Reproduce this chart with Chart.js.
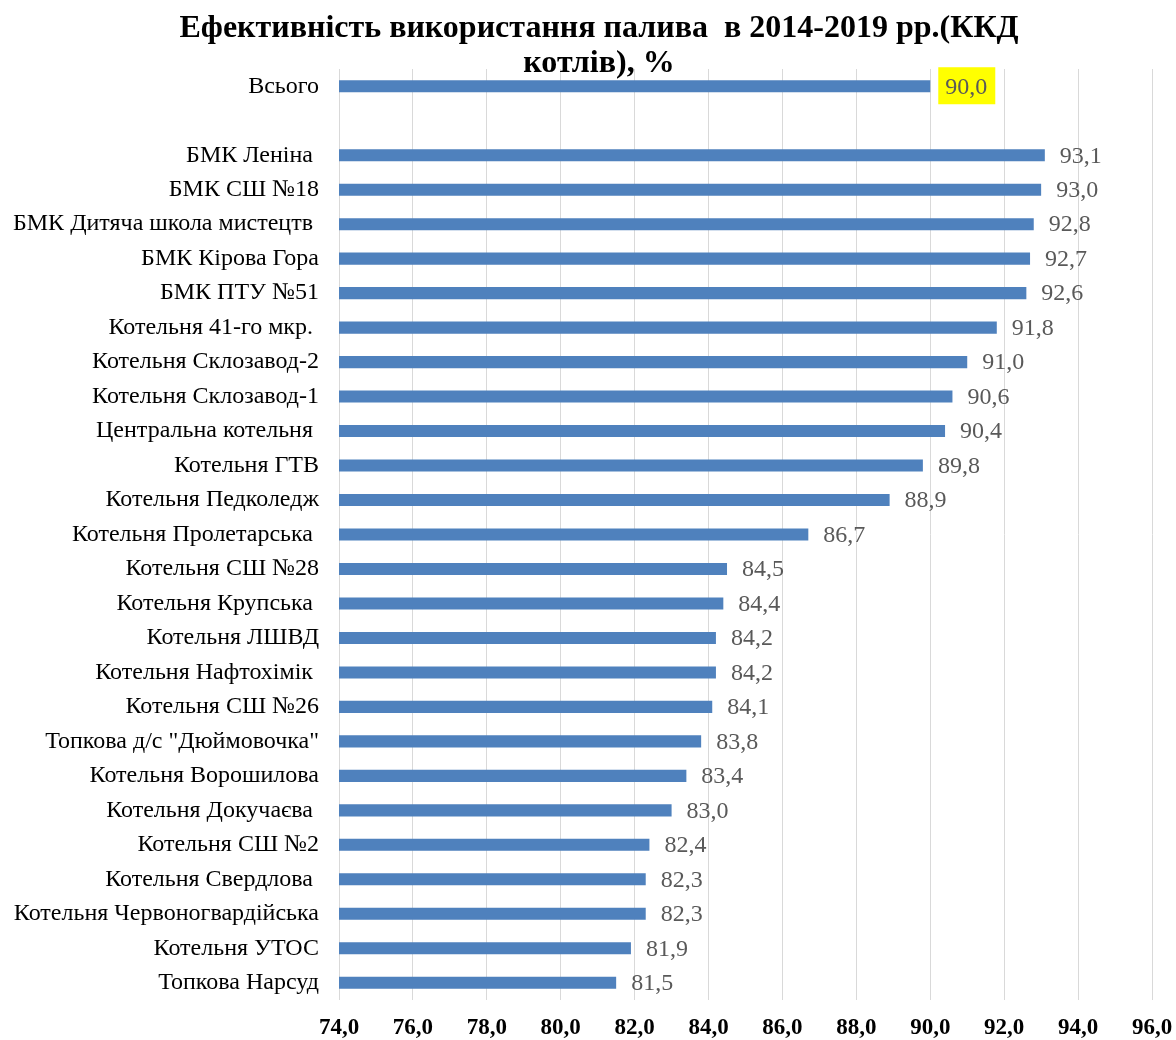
<!DOCTYPE html>
<html>
<head>
<meta charset="utf-8">
<script src="https://cdn.jsdelivr.net/npm/chart.js@4/dist/chart.umd.min.js"></script>
<style>
html,body{margin:0;padding:0;background:#fff;}
#wrap{width:1176px;height:1040px;position:relative;}
</style>
</head>
<body>
<div id="wrap"><canvas id="c"></canvas></div>
<script>
const titleLines = ['Ефективність використання палива  в 2014-2019 рр.(ККД', 'котлів), %'];
const categories = [
  'Всього', '',
  'БМК Леніна ', 'БМК СШ №18', 'БМК Дитяча школа мистецтв ', 'БМК Кірова Гора', 'БМК ПТУ №51',
  'Котельня 41-го мкр. ', 'Котельня Склозавод-2', 'Котельня Склозавод-1', 'Центральна котельня ',
  'Котельня ГТВ', 'Котельня Педколедж', 'Котельня Пролетарська ', 'Котельня СШ №28',
  'Котельня Крупська ', 'Котельня ЛШВД', 'Котельня Нафтохімік ', 'Котельня СШ №26',
  'Топкова д/с "Дюймовочка"', 'Котельня Ворошилова', 'Котельня Докучаєва ', 'Котельня СШ №2',
  'Котельня Свердлова ', 'Котельня Червоногвардійська', 'Котельня УТОС', 'Топкова Нарсуд'
];
const values = [
  90.0, null,
  93.1, 93.0, 92.8, 92.7, 92.6,
  91.8, 91.0, 90.6, 90.4,
  89.8, 88.9, 86.7, 84.5,
  84.4, 84.2, 84.2, 84.1,
  83.8, 83.4, 83.0, 82.4,
  82.3, 82.3, 81.9, 81.5
];
const highlightIndex = 0;
const xMin = 74, xMax = 96, xStep = 2;

const fmt = v => v.toFixed(1).replace('.', ',');

const titlePlugin = {
  id: 'customTitle',
  afterDraw(chart) {
    const ctx = chart.ctx;
    ctx.save();
    ctx.font = 'bold 32px "Liberation Serif", "Times New Roman", serif';
    ctx.fillStyle = '#000';
    ctx.textAlign = 'center';
    ctx.textBaseline = 'middle';
    ctx.fillText(titleLines[0], 599, 29);
    ctx.fillText(titleLines[1], 599, 64);
    ctx.restore();
  }
};

const labelPlugin = {
  id: 'valueLabels',
  afterDatasetsDraw(chart) {
    const ctx = chart.ctx;
    const meta = chart.getDatasetMeta(0);
    ctx.save();
    ctx.font = '24px "Liberation Serif", "Times New Roman", serif';
    ctx.textBaseline = 'middle';
    ctx.textAlign = 'left';
    meta.data.forEach((bar, i) => {
      const v = values[i];
      if (v === null || v === undefined) return;
      const txt = fmt(v);
      const x = bar.x + 15;
      const y = bar.y + 1;
      if (i === highlightIndex) {
        const w = ctx.measureText(txt).width;
        ctx.fillStyle = '#FFFF00';
        ctx.fillRect(x - 7, bar.y - 19, w + 15, 37);
      }
      ctx.fillStyle = '#595959';
      ctx.fillText(txt, x, y);
    });
    ctx.restore();
  }
};

new Chart(document.getElementById('c'), {
  type: 'bar',
  data: {
    labels: categories,
    datasets: [{
      data: values,
      backgroundColor: '#4F81BD',
      borderColor: '#4F81BD',
      borderWidth: 0,
      barPercentage: 0.7,
      categoryPercentage: 0.5
    }]
  },
  options: {
    indexAxis: 'y',
    responsive: true,
    maintainAspectRatio: false,
    animation: false,
    layout: { padding: { top: 69, right: 24, left: 0, bottom: 0 } },
    plugins: {
      legend: { display: false },
      title: { display: false },
      tooltip: { enabled: false }
    },
    scales: {
      x: {
        min: xMin, max: xMax,
        afterBuildTicks(scale) {
          const t = [];
          for (let v = xMin; v <= xMax + 1e-9; v += xStep) t.push({ value: v });
          scale.ticks = t;
        },
        afterFit(scale) { scale.height = 40; scale.paddingRight = 0; scale.paddingLeft = 0; },
        grid: { color: '#D9D9D9', lineWidth: 1, drawTicks: false },
        border: { display: false },
        ticks: {
          padding: 14,
          color: '#000',
          maxRotation: 0,
          autoSkip: false,
          font: { family: '"Liberation Serif", "Times New Roman", serif', size: 23, weight: 'bold' },
          callback: v => fmt(v)
        }
      },
      y: {
        afterFit(scale) { scale.width = 339; },
        grid: { display: false, drawTicks: false },
        border: { display: false },
        ticks: {
          padding: 20,
          color: '#000',
          autoSkip: false,
          font: { family: '"Liberation Serif", "Times New Roman", serif', size: 24 }
        }
      }
    }
  },
  plugins: [titlePlugin, labelPlugin]
});
</script>
</body>
</html>
